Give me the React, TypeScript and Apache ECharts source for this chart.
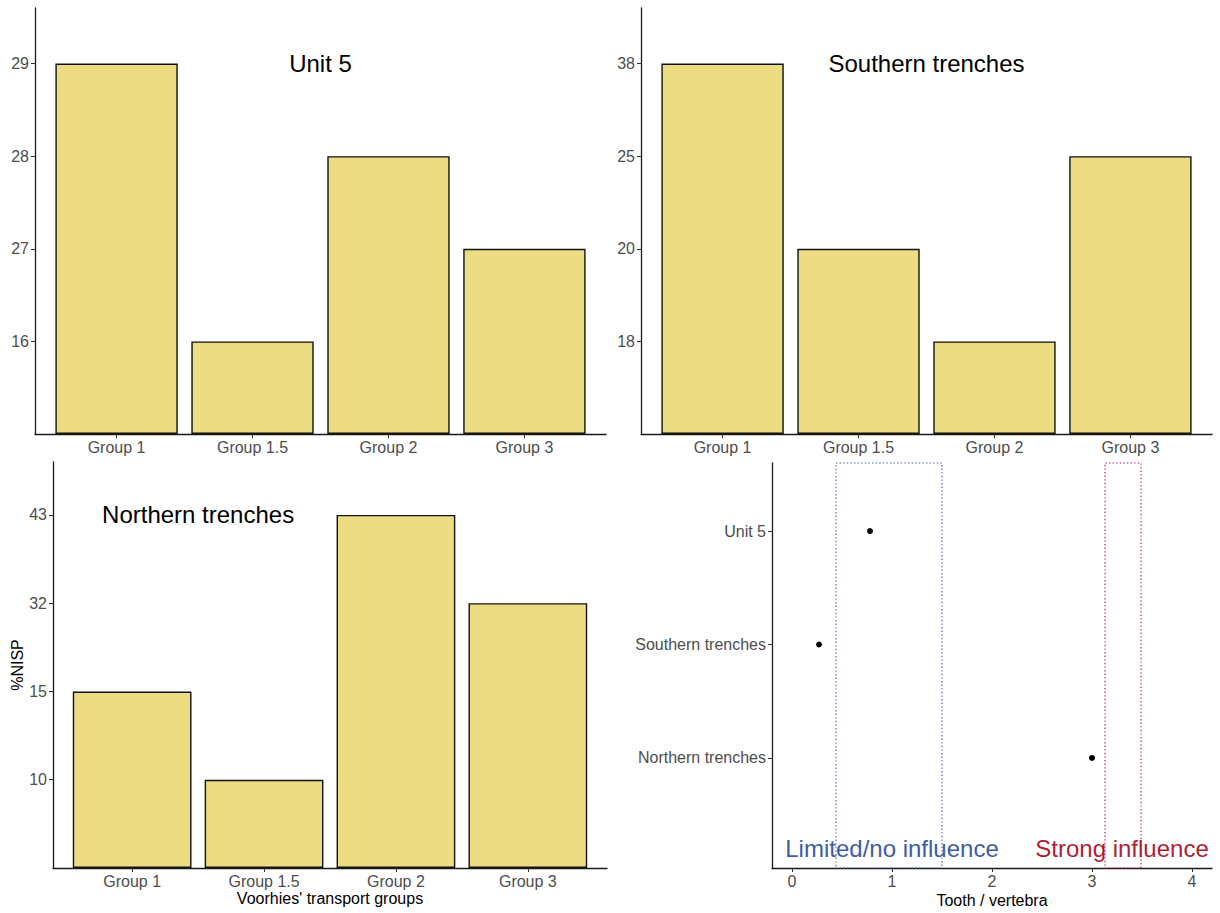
import React, { useEffect, useRef } from "react";
import * as echarts from "echarts";

// ---- data ----
const groups = ["Group 1", "Group 1.5", "Group 2", "Group 3"];
const unit5NISP = [29, 16, 28, 27];
const southernNISP = [38, 20, 18, 25];
const northernNISP = [15, 10, 43, 32];

const sites = ["Unit 5", "Southern trenches", "Northern trenches"];
const sitePositions = [3, 2, 1];
const toothPerVertebra = [0.78, 0.27, 3.0];

const limitedZone = [0.44, 1.5];
const strongZone = [3.13, 3.49];
const ratioTicks = [0, 1, 2, 3, 4];

const FONT = '"Liberation Sans", Arial, Helvetica, sans-serif';
const BAR_FILL = "#EEDC82";
const BLUE = "#3f5ca6";
const RED = "#b01e36";
const TICK_COLOR = "#4d4d4d";

// %NISP values are shown on a discrete axis: each bar reaches the rank of its value
function discreteLevels(values: number[]) {
  const levels = Array.from(new Set(values)).sort((a, b) => a - b);
  return { levels, heights: values.map((v) => levels.indexOf(v) + 1) };
}

const panels = [
  { title: "Unit 5", values: unit5NISP, titleX: 2.5, grid: { left: 35, top: 8, width: 571, height: 426 } },
  { title: "Southern trenches", values: southernNISP, titleX: 2.5, grid: { left: 641, top: 8, width: 571, height: 426 } },
  { title: "Northern trenches", values: northernNISP, titleX: 1.5, grid: { left: 53, top: 462, width: 554, height: 406 } },
];

const ratioGrid = { left: 772, top: 463, width: 440, height: 405 };

const axisLine = { show: true, onZero: false, lineStyle: { color: "#1a1a1a", width: 1.3 } };
const axisTickBase = { show: true, length: 4, lineStyle: { color: "#333", width: 1 } };
const tickLabel = { color: TICK_COLOR, fontSize: 16, fontFamily: FONT };
const axisTitle = { color: "#000", fontSize: 16, fontFamily: FONT };

const hiddenAnchor = { color: "transparent", opacity: 1 };

function buildOption() {
  const grids: any[] = [];
  const xAxes: any[] = [];
  const yAxes: any[] = [];
  const series: any[] = [];

  panels.forEach((p, i) => {
    const { levels, heights } = discreteLevels(p.values);
    const levelTicks = levels.map((_, k) => k + 1);
    const groupTicks = groups.map((_, k) => k + 1);
    grids.push({ ...p.grid, containLabel: false, outerBoundsMode: "none" });
    xAxes.push({
      type: "value",
      gridIndex: i,
      min: 0.4,
      max: 4.6,
      axisLine,
      axisTick: { ...axisTickBase, customValues: groupTicks },
      axisLabel: {
        ...tickLabel,
        margin: 5,
        customValues: groupTicks,
        formatter: (v: number) => groups[Math.round(v) - 1] ?? "",
      },
      splitLine: { show: false },
      ...(i === 2
        ? { name: "Voorhies' transport groups", nameLocation: "middle", nameGap: 22, nameTextStyle: axisTitle }
        : {}),
    });
    yAxes.push({
      type: "value",
      gridIndex: i,
      min: 0,
      max: 4.6,
      axisLine,
      axisTick: { ...axisTickBase, customValues: levelTicks },
      axisLabel: {
        ...tickLabel,
        margin: 6,
        customValues: levelTicks,
        formatter: (v: number) => String(levels[Math.round(v) - 1] ?? ""),
      },
      splitLine: { show: false },
      ...(i === 2
        ? { name: "%NISP", nameLocation: "middle", nameGap: 28, nameRotate: 90, nameTextStyle: axisTitle }
        : {}),
    });
    const unit = p.grid.width / 4.2;
    series.push({
      type: "bar",
      xAxisIndex: i,
      yAxisIndex: i,
      barWidth: unit * 0.9,
      data: heights.map((h, k) => [k + 1, h]),
      itemStyle: { color: BAR_FILL, borderColor: "#111", borderWidth: 1.4 },
      silent: true,
    });
    series.push({
      type: "scatter",
      xAxisIndex: i,
      yAxisIndex: i,
      symbolSize: 1,
      itemStyle: hiddenAnchor,
      data: [{ name: p.title, value: [p.titleX, levels.length] }],
      label: {
        show: true,
        position: "inside",
        formatter: "{b}",
        color: "#000",
        opacity: 1,
        fontSize: 24,
        fontFamily: FONT,
      },
      silent: true,
    });
  });

  // tooth / vertebra panel
  grids.push({ ...ratioGrid, containLabel: false, outerBoundsMode: "none" });
  xAxes.push({
    type: "value",
    gridIndex: 3,
    min: -0.2,
    max: 4.2,
    axisLine,
    axisTick: { ...axisTickBase, customValues: ratioTicks },
    axisLabel: { ...tickLabel, margin: 5, customValues: ratioTicks },
    splitLine: { show: false },
    name: "Tooth / vertebra",
    nameLocation: "middle",
    nameGap: 24,
    nameTextStyle: axisTitle,
  });
  yAxes.push({
    type: "value",
    gridIndex: 3,
    min: 0.03,
    max: 3.6,
    axisLine,
    axisTick: { ...axisTickBase, customValues: sitePositions },
    axisLabel: {
      ...tickLabel,
      margin: 6,
      customValues: sitePositions,
      formatter: (v: number) => sites[sitePositions.indexOf(Math.round(v))] ?? "",
    },
    splitLine: { show: false },
  });

  const zoneStyle = (color: string) => ({
    color: "rgba(0,0,0,0)",
    borderColor: color,
    borderWidth: 1.1,
    borderType: [1.4, 2.2],
    opacity: 1,
  });

  series.push({
    type: "scatter",
    xAxisIndex: 3,
    yAxisIndex: 3,
    symbolSize: 6,
    itemStyle: { color: "#000", opacity: 1 },
    data: toothPerVertebra.map((v, k) => [v, sitePositions[k]]),
    markArea: {
      silent: true,
      data: [
        [
          { xAxis: limitedZone[0], yAxis: 0.03, itemStyle: zoneStyle(BLUE) },
          { xAxis: limitedZone[1], yAxis: 3.6 },
        ],
        [
          { xAxis: strongZone[0], yAxis: 0.03, itemStyle: zoneStyle(RED) },
          { xAxis: strongZone[1], yAxis: 3.6 },
        ],
      ],
    },
    z: 3,
  });

  series.push({
    type: "scatter",
    xAxisIndex: 3,
    yAxisIndex: 3,
    symbolSize: 1,
    itemStyle: hiddenAnchor,
    silent: true,
    data: [
      { name: "Limited/no influence", value: [1.0, 0.2], label: { color: BLUE } },
      { name: "Strong influence", value: [3.3, 0.2], label: { color: RED } },
    ],
    label: {
      show: true,
      position: "inside",
      formatter: "{b}",
      opacity: 1,
      fontSize: 24,
      fontFamily: FONT,
    },
  });

  return {
    animation: false,
    backgroundColor: "#ffffff",
    textStyle: { fontFamily: FONT },
    grid: grids,
    xAxis: xAxes,
    yAxis: yAxes,
    series,
  };
}

export default function App() {
  const ref = useRef<HTMLDivElement | null>(null);

  useEffect(() => {
    if (!ref.current) return;
    const chart = echarts.init(ref.current, undefined, { renderer: "svg" });
    chart.setOption(buildOption() as any);
    return () => chart.dispose();
  }, []);

  return (
    <div
      ref={ref}
      style={{ position: "fixed", left: 0, top: 0, width: 1220, height: 913, background: "#fff" }}
    />
  );
}
